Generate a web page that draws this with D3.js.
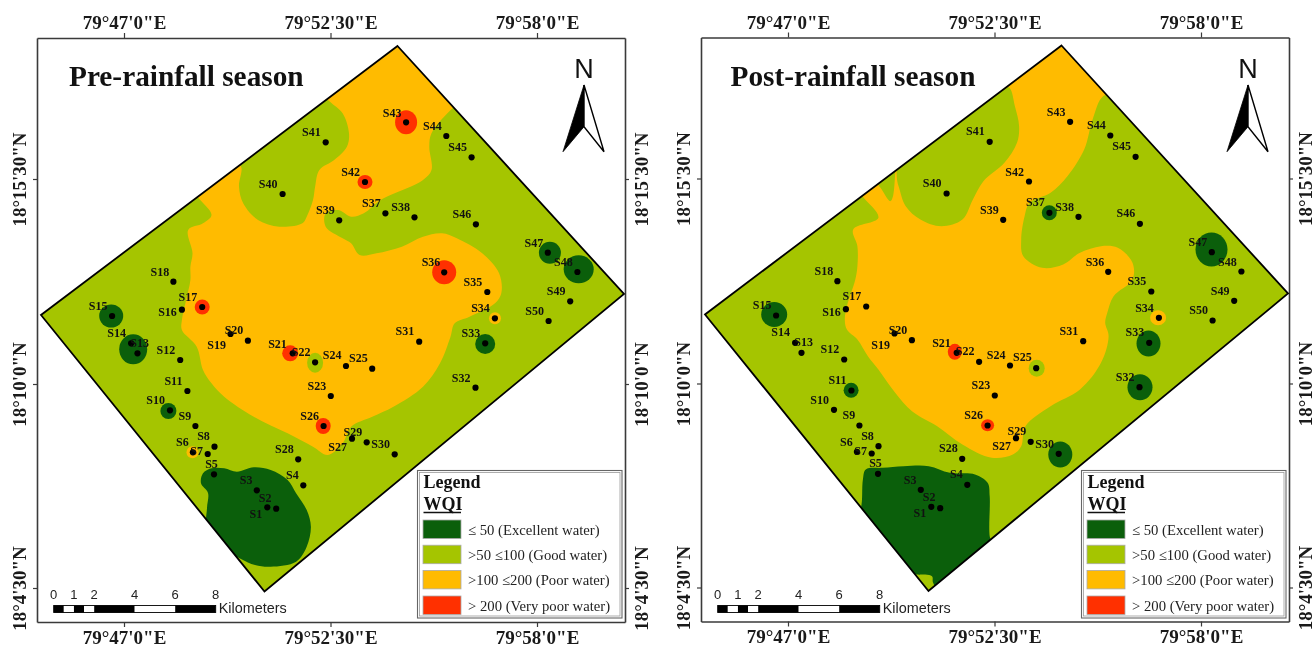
<!DOCTYPE html>
<html><head><meta charset="utf-8">
<script src="https://cdnjs.cloudflare.com/ajax/libs/d3/7.8.5/d3.min.js"></script>
<style>
html,body{margin:0;padding:0;background:#fff;overflow:hidden}
svg{display:block;filter:blur(.35px)}
.serif{font-family:"Liberation Serif",serif}
.sans{font-family:"Liberation Sans",sans-serif}
</style></head><body>
<svg id="chart" width="1315" height="648"></svg>
<script>
const lonLabels = ['79°47\'0"E', '79°52\'30"E', '79°58\'0"E'];
const lonGrid = [87, 293.5, 500];
const latLabels = ['18°15\'30"N', '18°10\'0"N', '18°4\'30"N'];
const latGrid = [141, 346, 550];

const seasons = ['Pre-rainfall season', 'Post-rainfall season'];

const classLabels = ['≤ 50 (Excellent water)', '>50 ≤100 (Good water)', '>100 ≤200 (Poor water)', '> 200 (Very poor water)'];

const studyArea = [[360.5,8],[587,256],[227.5,553.5],[4,277]];

const stationNames = d3.range(1, 51).map(i => 'S' + i);
const stationGrid = [[230.3,469.3],[239.2,470.7],[219.8,452.3],[266.3,447.3],[177,436.3],[155.9,414.3],[170.7,416],[177.5,408.7],[158.4,388],[133,372.3],
[150.4,353],[143.2,322],[100.5,315.3],[94.1,305.3],[75.1,278],[144.9,271.7],[165.2,269],[136.4,243.7],[193.5,296],[210.9,302.7],
[255.7,315.3],[278.1,324.3],[293.8,358],[309,328],[335.2,330.7],[286.6,388],[315,400.7],[261.2,421.3],[329.7,404.3],[357.7,416.3],
[382.2,303.7],[438.5,349.7],[448.2,305.3],[457.9,280.3],[450.3,254],[407.2,234.3],[348.4,175.3],[377.5,179.3],[302.2,182.3],[245.6,156],
[288.7,104.3],[328,144],[369.1,84.3],[409.3,98],[434.6,119.3],[438.9,186.3],[510.8,214.7],[540.4,234],[533.2,263.3],[511.6,283]];
const stationLabelGrid = [[218.9,475.3],[228.2,459.7],[209.2,442],[255.3,436.3],[174.5,425.7],[145.3,404],[159.7,413],[166.5,398],[147.9,377.3],[118.7,362],
[136.4,342.7],[128.8,311.3],[102.6,304.7],[79.7,294.7],[61.1,267.3],[130.5,274],[150.8,258.3],[122.9,233.3],[179.6,307],[197,292],
[240.5,305.3],[264.2,313.7],[279.8,347.3],[295.1,317],[321.3,319.7],[272.6,377.7],[300.6,408.7],[247.3,410.7],[315.8,393.3],[343.7,406],
[367.8,293],[424.1,339.3],[433.8,294.3],[443.5,270],[435.9,243.7],[394,224],[334.4,164.7],[363.6,169],[288.3,172],[231.2,145.7],
[274.3,93.7],[313.7,134],[355.1,74.3],[395.3,87.3],[420.7,108.7],[424.9,175.7],[496.8,204.3],[526.4,224],[519.2,253],[497.7,272.3]];

// Poor-water zone outlines
const prePoorZone = [[293,63.7],[305.6,75.3],[312,95.3],[309.9,108.7],[297.2,122],[282.4,132],[278.1,148.7],[276,162],[269.7,178.7],[265.4,185.3],[242.2,188.7],[221,182],[206.2,165.3],[202,148.7],[204.1,128.7],[195,122],[157,153],[161.8,160.3],[174.5,177],[166,185.3],[151.2,192],[155.5,215.3],[153.4,228.7],[153.4,242],[149.1,262],[144.9,282],[144.9,292],[159.7,308.7],[166,332],[174.5,345.3],[187.2,358.7],[216.8,378.7],[250.6,395.3],[276,408.7],[290.8,417],[305.6,405.3],[314.1,388.7],[335.2,378.7],[356.4,368.7],[386,348.7],[403,325.3],[413.5,298.7],[417.7,285.3],[432.5,278.7],[458,265.3],[464.3,255.3],[462.1,235.3],[445.2,215.3],[419.8,200.3],[405,195.3],[386,198.7],[364.9,208.7],[339.5,215.3],[322.6,217],[314.1,205.3],[305.6,200.3],[288.7,188.7],[288.7,175.3],[301.4,172],[314.1,178.7],[326.8,175.3],[343.7,162],[386,142],[394.5,132],[392.3,108.7],[394.5,95.3],[415.6,70.3],[430,60],[362,0],[285,55]];
const postPoorZone = [[308.4,50.3],[313.9,68.7],[318.1,88.7],[316,105.3],[303.4,125.3],[282.4,143.7],[271.9,162],[261.4,182],[240.4,188.7],[219.4,182],[204.7,168.7],[198,150],[196.3,143.7],[195,128],[192,158.7],[189.2,163.7],[179.5,150.3],[172,142],[157,153],[162.7,160.3],[177.4,180.3],[152.2,192],[156.4,208.7],[156.4,228.7],[154.3,242],[145.9,268.7],[143.8,282],[145.9,292],[156.4,302],[166.9,318.7],[177.4,332],[194.2,355.3],[211,373.7],[236.2,388.7],[261.4,407],[290.8,420.3],[311.8,417],[320.2,408.7],[324.4,388.7],[349.6,368.7],[379,352],[400,325.3],[407.6,298.7],[404.2,285.3],[406.3,275.3],[412.6,258.7],[431.5,242],[431.5,225.3],[416.8,210.3],[400,208.7],[379,215.3],[362.2,227],[341.2,230.3],[322.3,218.7],[320.2,202],[323.6,178.7],[328.6,165.3],[349.6,155.3],[366.4,138.7],[383.2,112],[391.6,82],[402.1,58.7],[420,55],[362,0],[300,48]];

// Excellent-water zone around S1-S5
const preExcellentZone = [[174.5,430.3],[187.2,430.3],[199.9,433.7],[216.8,429.3],[233.7,432],[250.6,442],[259.1,455.3],[269.7,472],[273.9,488.7],[269.7,508.7],[259.1,523.7],[233.7,528.7],[218,527],[204,521],[188,510],[170,490],[170,470],[171,455],[164,445.3],[166,435.3]];
const postExcellentZone = [[164.8,432],[181.6,430.3],[202.6,428.7],[227.8,428.7],[248.8,435.3],[274,437],[286.6,445.3],[288.7,458.7],[288.7,498.7],[292,510],[240,555],[232,545],[231,538.7],[215.2,537],[205,535],[155,480],[160,470],[161.9,442]];

// Spots around single stations: [grid E, grid N, radius E, radius N, WQI class 0-3]
const preSpots = [[369.1,84.3,11,12,3],[328,144,7.5,7,3],[407.2,234.3,12,12,3],[165.2,269,7.5,7.5,3],[253.2,315.3,8,8,3],[286.2,388,7.5,8,3],
[74.2,278,12,11.5,0],[96.2,311.3,14,15,0],[131.4,373,8,8,0],[448.2,306,10,10,0],[512.9,214.7,11,11,0],[541.7,231.3,15,14,0],
[155.5,414.3,6,6,2],[458,280.3,6,6,2],[278.1,324.7,8,10,1]];
const postSpots = [[73.2,277,13,12.5,0],[348.3,175.3,7.5,7.5,0],[510.5,212,16,17,0],[447.5,306,12,13,0],[439,349.7,12.5,13,0],[359.3,417,12,13,0],[150.1,352.7,7.5,7.5,0],
[457.1,280.3,8,7.5,2],[335.7,330.7,8,8.5,1],[253.8,314.3,7,8,3],[286.6,387.7,6.5,6,3]];

const scaleStops = [0, 0.5, 1, 1.5, 2, 4, 6, 8];
const scaleTicks = [0, 1, 2, 4, 6, 8];

// ---- Styling
const classColors = ['#0b5f0b', '#a5c500', '#ffbb00', '#ff3000'];
const panelShift = [0, 664];

const svg = d3.select('#chart');
const defs = svg.append('defs');
const blob = d3.line().curve(d3.curveCatmullRomClosed.alpha(0.5));

function drawPanel(index, poorZone, excellentZone, spots) {
  const shift = panelShift[index];
  const lift = index ? -0.5 : 0;
  const x = d3.scaleLinear().domain([0, 588]).range([37 + shift, 625 + shift]);
  const y = d3.scaleLinear().domain([0, 584]).range([38 + lift, 622 + lift]);
  const km = d3.scaleLinear().domain([0, 8]).range([53.7 + shift, 215.7 + shift]);
  const g = svg.append('g');
  const toPx = pts => pts.map(p => [x(p[0]), y(p[1])]);

  // Axes make the frame, ticks and tick labels
  const styleAxis = sel => {
    sel.select('.domain').attr('stroke', '#3a3a3a').attr('stroke-width', 1.6);
    sel.selectAll('.tick line').attr('stroke', '#3a3a3a').attr('stroke-width', 1.2);
    sel.selectAll('text').attr('class', 'serif').attr('font-size', 19).attr('font-weight', 700).attr('fill', '#1a1a1a').attr('font-family', '"Liberation Serif",serif');
  };
  const lonFmt = (d, i) => lonLabels[i], latFmt = (d, i) => latLabels[i];
  g.append('g').attr('transform', `translate(0,${y(0)})`)
    .call(d3.axisTop(x).tickValues(lonGrid).tickFormat(lonFmt).tickSize(5).tickSizeOuter(0)).call(styleAxis)
    .selectAll('text').attr('y', -9).attr('dy', 0);
  g.append('g').attr('transform', `translate(0,${y(584)})`)
    .call(d3.axisBottom(x).tickValues(lonGrid).tickFormat(lonFmt).tickSize(5).tickSizeOuter(0)).call(styleAxis)
    .selectAll('text').attr('y', 21.5).attr('dy', 0);
  g.append('g').attr('transform', `translate(${x(0)},0)`)
    .call(d3.axisLeft(y).tickValues(latGrid).tickFormat(latFmt).tickSize(4).tickSizeOuter(0)).call(styleAxis)
    .selectAll('text').attr('x', 0).attr('dy', '.33em').attr('text-anchor', 'middle').attr('transform', 'translate(-17,0) rotate(-90)');
  g.append('g').attr('transform', `translate(${x(588)},0)`)
    .call(d3.axisRight(y).tickValues(latGrid).tickFormat(latFmt).tickSize(4).tickSizeOuter(0)).call(styleAxis)
    .selectAll('text').attr('x', 0).attr('dy', '.33em').attr('text-anchor', 'middle').attr('transform', 'translate(17,0) rotate(-90)');

  // Study area and WQI zones
  const clipId = 'area' + index;
  defs.append('clipPath').attr('id', clipId).append('polygon').attr('points', toPx(studyArea).join(' '));
  const zones = g.append('g').attr('clip-path', `url(#${clipId})`);
  zones.append('polygon').attr('points', toPx(studyArea).join(' ')).attr('fill', classColors[1]);
  zones.append('path').attr('d', blob(toPx(poorZone))).attr('fill', classColors[2]);
  zones.append('path').attr('d', blob(toPx(excellentZone))).attr('fill', classColors[0]);
  zones.selectAll('ellipse').data(spots).join('ellipse')
    .attr('cx', d => x(d[0])).attr('cy', d => y(d[1]))
    .attr('rx', d => x(d[2]) - x(0)).attr('ry', d => y(d[3]) - y(0))
    .attr('fill', d => classColors[d[4]]);
  g.append('polygon').attr('points', toPx(studyArea).join(' '))
    .attr('fill', 'none').attr('stroke', '#000').attr('stroke-width', 1.8).attr('stroke-linejoin', 'miter');

  // Stations
  g.selectAll('circle.st').data(stationGrid).join('circle').attr('class', 'st')
    .attr('cx', d => x(d[0])).attr('cy', d => y(d[1])).attr('r', 3.1).attr('fill', '#000');
  g.selectAll('text.st').data(stationLabelGrid).join('text').attr('class', 'st serif')
    .attr('x', d => x(d[0])).attr('y', d => y(d[1])).attr('dy', '.35em').attr('text-anchor', 'middle')
    .attr('font-size', 12).attr('font-weight', 700).attr('fill', '#111')
    .text((d, i) => stationNames[i]);

  // Title
  g.append('text').attr('class', 'serif').attr('x', (index ? 66.5 : 69) + shift).attr('y', 85.5)
    .attr('font-size', 29.3).attr('font-weight', 700).attr('fill', '#111').text(seasons[index]);

  // North arrow
  const nx = 584 + shift;
  g.append('text').attr('class', 'sans').attr('x', nx).attr('y', 78).attr('text-anchor', 'middle')
    .attr('font-size', 27).attr('fill', '#111').text('N');
  g.append('path').attr('d', `M${nx},85L${nx - 21},151.7L${nx},126.7Z`).attr('fill', '#000').attr('stroke', '#000').attr('stroke-width', 0.8);
  g.append('path').attr('d', `M${nx},85L${nx + 20},151.7L${nx},126.7Z`).attr('fill', '#fff').attr('stroke', '#000').attr('stroke-width', 1.4);

  // Scale bar
  const segs = d3.pairs(scaleStops);
  g.selectAll('rect.sb').data(segs).join('rect').attr('class', 'sb')
    .attr('x', d => km(d[0])).attr('width', d => km(d[1]) - km(d[0]))
    .attr('y', 605.5).attr('height', 7)
    .attr('fill', (d, i) => i % 2 === 0 ? '#000' : '#fff');
  g.append('rect').attr('x', km(0)).attr('y', 605.5).attr('width', km(8) - km(0)).attr('height', 7)
    .attr('fill', 'none').attr('stroke', '#000').attr('stroke-width', 0.9);
  g.selectAll('text.sb').data(scaleTicks).join('text').attr('class', 'sb sans')
    .attr('x', d => km(d)).attr('y', 599).attr('text-anchor', 'middle')
    .attr('font-size', 13).attr('fill', '#222').text(d => d);
  g.append('text').attr('class', 'sans').attr('x', 218.7 + shift).attr('y', 612.5)
    .attr('font-size', 14.4).attr('fill', '#222').text('Kilometers');

  // Legend
  const lx = 417.5 + shift;
  g.append('rect').attr('x', lx).attr('y', 470.5).attr('width', 204.5).attr('height', 147.5)
    .attr('fill', '#fff').attr('stroke', '#666').attr('stroke-width', 1.1);
  g.append('rect').attr('x', lx + 2).attr('y', 472.5).attr('width', 200.5).attr('height', 143.5)
    .attr('fill', 'none').attr('stroke', '#999').attr('stroke-width', 0.8);
  g.append('text').attr('class', 'serif').attr('x', lx + 6).attr('y', 488).attr('font-size', 18)
    .attr('font-weight', 700).attr('fill', '#111').text('Legend');
  g.append('text').attr('class', 'serif').attr('x', lx + 6).attr('y', 510).attr('font-size', 18)
    .attr('font-weight', 700).attr('fill', '#111').text('WQI');
  g.append('line').attr('x1', lx + 6).attr('x2', lx + 43.5).attr('y1', 512.5).attr('y2', 512.5).attr('stroke', '#111').attr('stroke-width', 1.4);
  const rowY = [520, 545.2, 570.4, 596];
  const rows = g.selectAll('g.row').data(classLabels).join('g').attr('class', 'row')
    .attr('transform', (d, i) => `translate(${lx + 5.5},${rowY[i]})`);
  rows.append('rect').attr('width', 38).attr('height', 18.5)
    .attr('fill', (d, i) => classColors[i]).attr('stroke', '#aaa').attr('stroke-width', 0.8);
  rows.append('text').attr('class', 'serif').attr('x', 45).attr('y', 9.5).attr('dy', '.35em')
    .attr('font-size', 14.7).attr('fill', '#222').text(d => d);
}

drawPanel(0, prePoorZone, preExcellentZone, preSpots);
drawPanel(1, postPoorZone, postExcellentZone, postSpots);
</script>
</body></html>
